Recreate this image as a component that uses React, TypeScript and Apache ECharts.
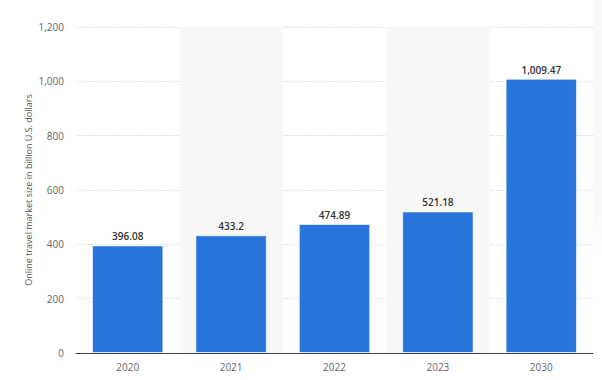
import React, { useEffect, useRef } from "react";
import * as echarts from "echarts";

const categories = ["2020", "2021", "2022", "2023", "2030"];
const marketSize = [396.08, 433.2, 474.89, 521.18, 1009.47];
const yTicks = [0, 200, 400, 600, 800, 1000, 1200];
const yAxisTitle = "Online travel market size in billion U.S. dollars";

export default function App() {
  const ref = useRef<HTMLDivElement>(null);
  useEffect(() => {
    if (!ref.current) return;
    const chart = echarts.init(ref.current, undefined, { renderer: "svg" });
    chart.setOption({
      animation: false,
      textStyle: { fontFamily: "Open Sans, Roboto, sans-serif" },
      grid: { left: 76, right: 9, top: 27, bottom: 27, containLabel: false },
      graphic: [
        {
          type: "rect",
          right: 0,
          top: 0,
          shape: { width: 9, height: 260 },
          style: {
            fill: new echarts.graphic.LinearGradient(0, 0, 0, 1, [
              { offset: 0, color: "rgba(0,0,0,0.025)" },
              { offset: 0.8, color: "rgba(0,0,0,0.02)" },
              { offset: 1, color: "rgba(0,0,0,0)" },
            ]),
          },
          silent: true,
        },
      ],
      xAxis: {
        type: "category",
        data: categories,
        axisTick: { show: false },
        axisLine: { lineStyle: { color: "#444", width: 1 } },
        axisLabel: { color: "#666", fontSize: 10, margin: 9 },
        splitArea: {
          show: true,
          areaStyle: { color: ["rgba(255,255,255,0)", "#f8f8f8"] },
        },
      },
      yAxis: {
        type: "value",
        min: yTicks[0],
        max: yTicks[yTicks.length - 1],
        interval: 200,
        name: yAxisTitle,
        nameLocation: "middle",
        nameGap: 43,
        nameMoveOverlap: false,
        nameTextStyle: { color: "#555", fontSize: 9 },
        axisLine: { show: false },
        axisTick: { show: false },
        axisLabel: {
          color: "#666",
          fontSize: 10,
          margin: 12,
          formatter: (v: number) => v.toLocaleString("en-US"),
        },
        splitLine: { lineStyle: { color: "#e2e2e2", type: [2, 1], width: 1 } },
      },
      series: [
        {
          type: "bar",
          data: marketSize,
          barCategoryGap: "31%",
          itemStyle: {
            color: "#2874db",
            borderColor: "rgba(255,255,255,0.6)",
            borderWidth: 1,
          },
          label: {
            show: true,
            position: "top",
            distance: 4,
            color: "#333",
            fontSize: 10,
            fontWeight: 600,
            formatter: (p: any) =>
              Number(p.value).toLocaleString("en-US", { maximumFractionDigits: 2 }),
          },
        },
      ],
    });
    return () => chart.dispose();
  }, []);
  return (
    <div
      ref={ref}
      style={{ position: "fixed", left: 0, top: 0, width: 602, height: 380, background: "#fff" }}
    />
  );
}
